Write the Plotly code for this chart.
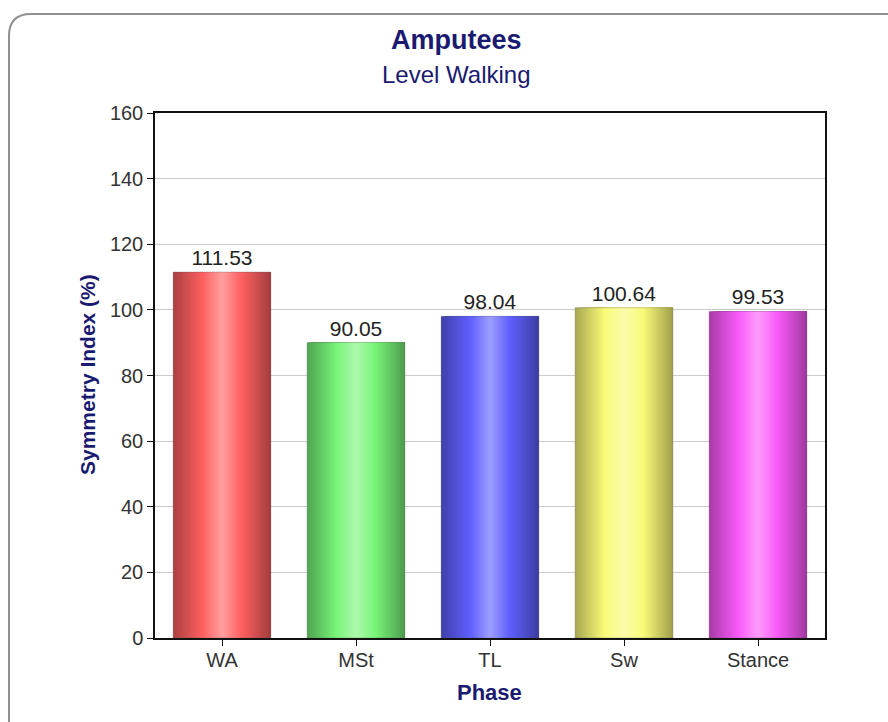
import plotly.graph_objects as go

categories = ["WA", "MSt", "TL", "Sw", "Stance"]
values = [111.53, 90.05, 98.04, 100.64, 99.53]
base_colors = [(255, 96, 96), (120, 245, 120), (96, 96, 255), (250, 250, 120), (250, 90, 250)]
y_ticks = [0, 20, 40, 60, 80, 100, 120, 140, 160]

W, H = 888, 722
L, R, T, B = 155, 825, 113, 638
def px(x):
    return (x - L) / (R - L)
def py(y):
    return (B - y) / (B - T)

BAR_W = 0.73
N = 40

def shade(c, t):
    # profile: dark edges, base at 0.3 / 0.7, highlight at 0.5
    pts = [(0.0, -0.33), (0.3, 0.0), (0.5, 0.4), (0.7, 0.0), (1.0, -0.36)]
    v = 0.0
    for (t0, v0), (t1, v1) in zip(pts, pts[1:]):
        if t0 <= t <= t1:
            v = v0 + (v1 - v0) * (t - t0) / (t1 - t0)
            break
    if v < 0:
        f = 1 + v
        return "rgb(%d,%d,%d)" % tuple(int(ch * f) for ch in c)
    return "rgb(%d,%d,%d)" % tuple(int(ch + (255 - ch) * v) for ch in c)

fig = go.Figure()
sw = BAR_W / N
for i in range(N):
    t = (i + 0.5) / N
    off = -BAR_W / 2 + i * sw
    fig.add_trace(go.Bar(
        x=categories, y=values, width=BAR_W / 2 - off, offset=off,
        marker=dict(color=[shade(c, t) for c in base_colors], line=dict(width=0)),
        showlegend=False, hoverinfo="skip"))

fig.add_trace(go.Bar(
    x=categories, y=values, width=BAR_W,
    marker=dict(color="rgba(0,0,0,0)", line=dict(width=1, color="rgba(90,90,90,0.3)")),
    text=[f"{v:.2f}" for v in values], textposition="outside",
    textfont=dict(size=21, color="#222", family="Liberation Sans, Arial"),
    cliponaxis=False, showlegend=False))

navy = "#1a1a70"
fig.update_layout(
    width=W, height=H, barmode="overlay",
    margin=dict(l=L, r=W - R, t=T, b=H - B),
    paper_bgcolor="white", plot_bgcolor="white",
    font=dict(family="Liberation Sans, Arial", size=20, color="#333"),
    xaxis=dict(showline=True, linecolor="#111", linewidth=1.5, mirror=True,
               ticks="outside", ticklen=6, tickcolor="#111", showgrid=False,
               ticklabelstandoff=-3,
               tickfont=dict(size=20, color="#333")),
    yaxis=dict(range=[0, 160], tickvals=y_ticks, showline=True, linecolor="#111",
               linewidth=1.5, mirror=True, ticks="outside", ticklen=6, tickcolor="#111",
               showgrid=True, gridcolor="#cccccc", gridwidth=1, zeroline=False,
               tickfont=dict(size=20, color="#333")),
    annotations=[
        dict(text="<b>Amputees</b>", x=px(456), y=py(40), xref="paper", yref="paper",
             showarrow=False, font=dict(size=27, color=navy), xanchor="center", yanchor="middle"),
        dict(text="Level Walking", x=px(456), y=py(74), xref="paper", yref="paper",
             showarrow=False, font=dict(size=24, color=navy), xanchor="center", yanchor="middle"),
        dict(text="<b>Symmetry Index (%)</b>", x=px(87), y=py(375), xref="paper", yref="paper",
             showarrow=False, textangle=-90, font=dict(size=21, color=navy),
             xanchor="center", yanchor="middle"),
        dict(text="<b>Phase</b>", x=px(489), y=py(692), xref="paper", yref="paper",
             showarrow=False, font=dict(size=22, color=navy), xanchor="center", yanchor="middle"),
    ],
)

# rounded outer frame
x0, y0 = px(9), py(14)
rr_x = 22 / (R - L)
rr_y = 22 / (B - T)
xb, yb = px(9), py(730)
xr = px(900)
path = (f"M {xb} {yb} L {x0} {y0 - rr_y} Q {x0} {y0} {x0 + rr_x} {y0} L {xr} {y0}")
fig.add_shape(type="path", path=path, xref="paper", yref="paper",
              line=dict(color="#909090", width=2))

fig.write_html("out.html")
